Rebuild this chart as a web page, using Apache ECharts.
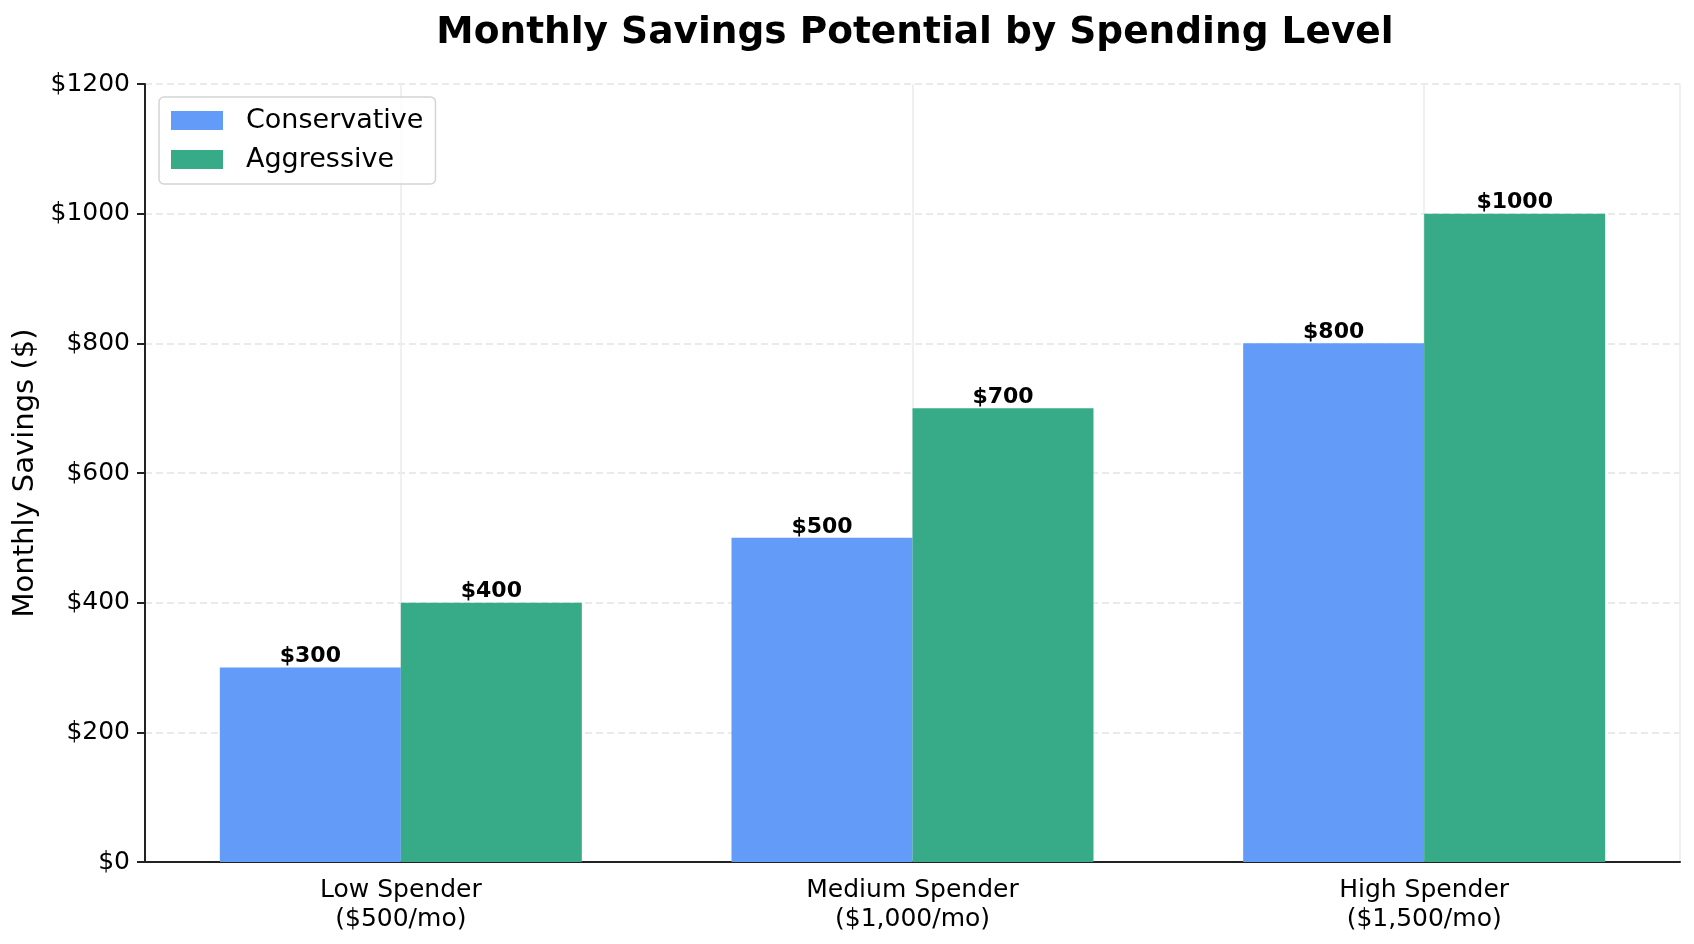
<!DOCTYPE html>
<html lang="en">
<head>
    <meta charset="UTF-8">
    <title>Monthly Savings Potential</title>
    <script src="https://cdn.jsdelivr.net/npm/echarts@6/dist/echarts.min.js"></script>
    <style>
        html, body { margin: 0; padding: 0; background: #fff; }
    </style>
</head>
<body>
<div id="main" style="width: 1694px;height:944px;"></div>

<script type="text/javascript">
    var categories = ['Low Spender\n($500/mo)', 'Medium Spender\n($1,000/mo)', 'High Spender\n($1,500/mo)'];
    var conservative = [300, 500, 800];
    var aggressive = [400, 700, 1000];
    var yTicks = [0, 200, 400, 600, 800, 1000, 1200];

    var font = 'DejaVu Sans';

    var myChart = echarts.init(document.getElementById('main'));

    // half-band axis just to get the vertical grid lines at category centres
    var halfBands = [];
    categories.forEach(function (c) { halfBands.push('', c); });

    var barLabel = {
        show: true,
        position: 'top',
        distance: 0,
        fontFamily: font,
        fontWeight: 'bold',
        fontSize: 22,
        color: '#000',
        formatter: function (p) { return '$' + p.value; }
    };

    var option = {
        backgroundColor: '#fff',
        animation: false,
        title: {
            text: 'Monthly Savings Potential by Spending Level',
            left: 910,
            textAlign: 'center',
            top: 9,
            textStyle: { fontFamily: font, fontWeight: 'bold', fontSize: 37.5, color: '#000' }
        },
        legend: {
            orient: 'vertical',
            left: 159,
            top: 97,
            padding: [10, 12, 11, 12],
            icon: 'rect',
            itemWidth: 52,
            itemHeight: 19,
            itemGap: 12,
            borderColor: '#d4d4d4',
            borderWidth: 1.5,
            borderRadius: 5,
            backgroundColor: 'rgba(255,255,255,0.8)',
            textStyle: { fontFamily: font, fontSize: 27, color: '#000', padding: [0, 0, 0, 18] },
            data: ['Conservative', 'Aggressive']
        },
        grid: { left: 145, right: 14, top: 84, bottom: 82 },
        xAxis: [{
            type: 'category',
            data: categories,
            axisLine: { lineStyle: { color: '#222', width: 2 } },
            axisTick: { alignWithLabel: true, length: 8, lineStyle: { color: '#222', width: 2 } },
            axisLabel: { fontFamily: font, fontSize: 25, color: '#000', margin: 14, lineHeight: 29 },
            splitLine: { show: false }
        }, {
            type: 'category',
            data: halfBands,
            position: 'bottom',
            axisLine: { show: false },
            axisTick: { show: false },
            axisLabel: { show: false },
            splitLine: {
                show: true,
                interval: function (i) { return i % 2 === 1; },
                lineStyle: { color: '#ebebeb', width: 1.5 }
            }
        }],
        yAxis: {
            type: 'value',
            min: yTicks[0],
            max: yTicks[yTicks.length - 1],
            interval: 200,
            name: 'Monthly Savings ($)',
            nameLocation: 'middle',
            nameGap: 104,
            nameTextStyle: { fontFamily: font, fontSize: 29, color: '#000' },
            axisLine: { show: true, lineStyle: { color: '#222', width: 2 } },
            axisTick: { show: true, length: 8, lineStyle: { color: '#222', width: 2 } },
            axisLabel: {
                fontFamily: font, fontSize: 25, color: '#000', margin: 15,
                formatter: function (v) { return '$' + v; }
            },
            splitLine: { show: true, lineStyle: { color: '#e3e3e3', width: 1.5, type: [7, 4] } }
        },
        series: [{
            name: 'Conservative',
            type: 'bar',
            data: conservative,
            barWidth: 181,
            barGap: '0%',
            itemStyle: { color: '#629bf8' },
            label: barLabel
        }, {
            name: 'Aggressive',
            type: 'bar',
            data: aggressive,
            barWidth: 181,
            barGap: '0%',
            itemStyle: { color: '#37ab87' },
            label: barLabel
        }]
    };

    myChart.setOption(option);
</script>
</body>
</html>
